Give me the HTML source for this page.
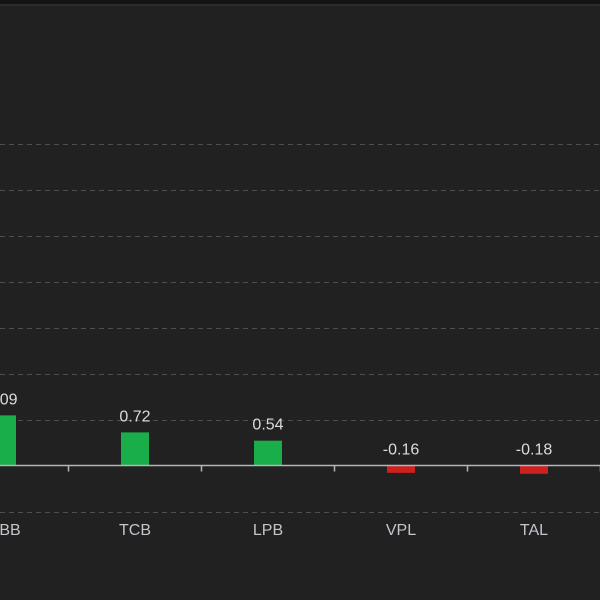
<!DOCTYPE html>
<html><head><meta charset="utf-8"><style>
html,body{margin:0;padding:0;background:#212121;}
svg{display:block;font-family:"Liberation Sans",sans-serif;}
</style></head><body>
<svg id="chart" width="600" height="600" viewBox="0 0 600 600">
<rect x="0" y="0" width="600" height="600" fill="#212121"/>
<rect x="0" y="0" width="600" height="4" fill="#141414"/>
<rect x="0" y="4" width="600" height="2" fill="#2c2c2c"/>
<g id="grid"></g><g id="bars"></g><g id="axis"></g><g id="labels"></g>
</svg>
<script>
const categories = ["BB","TCB","LPB","VPL","TAL"];
const values = [1.09, 0.72, 0.54, -0.16, -0.18];
const gridTicks = [-1, 1, 2, 3, 4, 5, 6, 7];
const valueLabels = ["1.09","0.72","0.54","-0.16","-0.18"];
const NS="http://www.w3.org/2000/svg";
const zeroY=465.5, unit=46, step=133, firstX=1, barW=28;
function y(v){return zeroY - v*unit;}
function x(i){return firstX + i*step;}
function mk(tag,attrs,parent){const e=document.createElementNS(NS,tag);for(const k in attrs)e.setAttribute(k,attrs[k]);document.getElementById(parent).appendChild(e);return e;}
gridTicks.forEach(t=>{
  const l=mk("line",{x1:0,x2:600,y1:Math.round(y(t))+0.5,y2:Math.round(y(t))+0.5,stroke:"#4e4e4e","stroke-dasharray":"5,4","stroke-width":1},"grid");
  
  
});
values.forEach((v,i)=>{
  const top=Math.min(y(v),zeroY), h=Math.abs(y(v)-zeroY);
  const r=mk("rect",{x:x(i)-barW/2+1,y:top,width:barW,height:h,fill:v>=0?"#1aae4a":"#cf2020"},"bars");
  
  
  const ly = v>=0 ? y(v)-11 : zeroY-11;
  const t=mk("text",{x:x(i)+1,y:ly,"text-anchor":"middle","font-size":"16",fill:"#dcdcdc"},"labels");
  t.textContent=valueLabels[i];
  
  
  const c=mk("text",{x:i===0?10:x(i)+1,y:535,"text-anchor":"middle","font-size":"16",fill:"#c4c4cc"},"labels");
  c.textContent=categories[i];
  
  
});
const ax=mk("line",{x1:0,x2:600,y1:zeroY,y2:zeroY,stroke:"#b4b4bc","stroke-width":1.5},"axis");


categories.forEach((c,i)=>{
  const tx=x(i)+step/2+1;
  const tk=mk("line",{x1:tx,x2:tx,y1:zeroY,y2:zeroY+6,stroke:"#b4b4bc","stroke-width":1.5},"axis");
  
  
});
</script>
</body></html>
